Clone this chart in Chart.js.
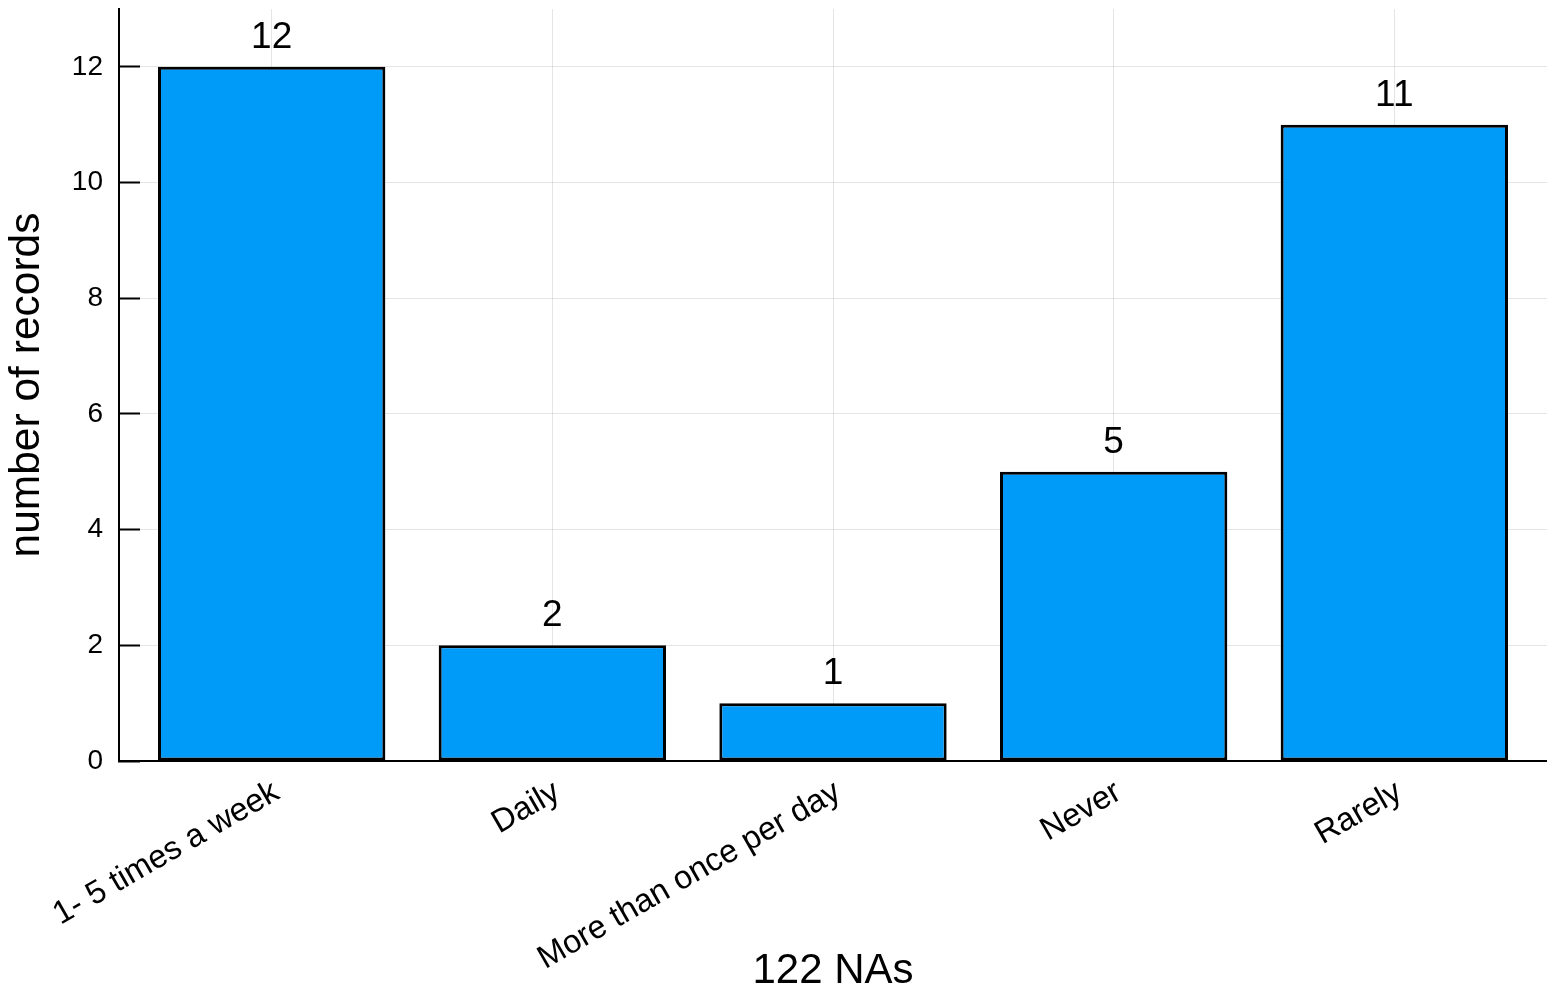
<!DOCTYPE html>
<html>
<head>
<meta charset="utf-8">
<script src="https://cdn.jsdelivr.net/npm/chart.js@4"></script>
<style>
  html, body { margin: 0; padding: 0; background: #fff; }
  #wrap { width: 1547px; height: 992px; position: relative; }
</style>
</head>
<body>
<div id="wrap"><canvas id="c"></canvas></div>
<script>
const categories = ["1- 5 times a week", "Daily", "More than once per day", "Never", "Rarely"];
const counts = [12, 2, 1, 5, 11];
const yTicks = [0, 2, 4, 6, 8, 10, 12];
const xTitle = "122 NAs";
const yTitle = "number of records";

const FONT = "'Liberation Sans', Arial, Helvetica, sans-serif";
const BAR_BLUE = "#009af9";

// bar centres sit at i + 0.5 on a linear axis, like the source plot
const points = counts.map((v, i) => ({ x: i + 0.5, y: v }));

const valueLabels = {
  id: "valueLabels",
  afterDatasetsDraw(chart) {
    const ctx = chart.ctx;
    const meta = chart.getDatasetMeta(0);
    ctx.save();
    ctx.font = "37px " + FONT;
    ctx.fillStyle = "#000";
    ctx.textAlign = "center";
    ctx.textBaseline = "alphabetic";
    meta.data.forEach((bar, i) => {
      ctx.fillText(String(counts[i]), bar.x, bar.y - 19);
    });
    ctx.restore();
  }
};

new Chart(document.getElementById("c"), {
  type: "bar",
  data: {
    datasets: [{
      data: points,
      backgroundColor: BAR_BLUE,
      borderColor: "#000",
      borderWidth: 3,
      borderSkipped: false,
      barPercentage: 0.81,
      categoryPercentage: 1.0
    }]
  },
  options: {
    animation: false,
    responsive: true,
    maintainAspectRatio: false,
    layout: { padding: { top: 9, right: 0, left: 0, bottom: 0 } },
    plugins: { legend: { display: false }, tooltip: { enabled: false } },
    scales: {
      x: {
        type: "linear",
        min: -0.044,
        max: 5.044,
        offset: false,
        afterBuildTicks: (scale) => { scale.ticks = categories.map((c, i) => ({ value: i + 0.5 })); },
        afterFit: (scale) => { scale.height = 231; },
        grid: { color: "rgba(0,0,0,0.1)", lineWidth: 1, drawTicks: false, offset: false },
        border: { color: "#000", width: 2 },
        ticks: {
          autoSkip: false,
          minRotation: 30,
          maxRotation: 30,
          padding: 12,
          labelOffset: 5,
          color: "#000",
          font: { family: FONT, size: 32.5 },
          callback: (v, i) => categories[i]
        },
        title: {
          display: true,
          text: xTitle,
          color: "#000",
          font: { family: FONT, size: 42, lineHeight: 1 },
          padding: { top: 0, bottom: 0 }
        }
      },
      y: {
        min: 0,
        max: 13,
        afterBuildTicks: (scale) => { scale.ticks = yTicks.map(v => ({ value: v })); },
        afterFit: (scale) => { scale.width = 119; scale.paddingTop = 0; scale.paddingBottom = 0; },
        grid: { color: "rgba(0,0,0,0.1)", lineWidth: 1, drawTicks: true, tickLength: -21, tickColor: "#000", tickWidth: 2 },
        border: { color: "#000", width: 2 },
        ticks: {
          padding: 37,
          color: "#000",
          font: { family: FONT, size: 28 }
        },
        title: {
          display: true,
          text: yTitle,
          color: "#000",
          font: { family: FONT, size: 42.5, lineHeight: 1 },
          padding: { top: 6, bottom: 0 }
        }
      }
    }
  },
  plugins: [valueLabels]
});
</script>
</body>
</html>
